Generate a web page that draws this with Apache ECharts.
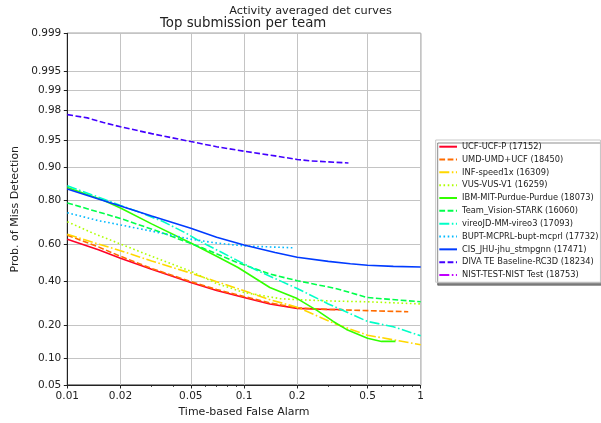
<!DOCTYPE html>
<html><head><meta charset="utf-8">
<script src="https://cdn.jsdelivr.net/npm/echarts@6/dist/echarts.min.js"></script>
<style>html,body{margin:0;padding:0;background:#fff}#c{width:601px;height:423px}</style>
</head><body><div id="c"></div><script>
// ---- tick definitions ----
const FA_TICKS = [0.01, 0.02, 0.05, 0.1, 0.2, 0.5, 1];
const FA_LABELS = ['0.01', '0.02', '0.05', '0.1', '0.2', '0.5', '1'];
const FA_MINOR = [0.03, 0.04, 0.06, 0.07, 0.08, 0.09, 0.3, 0.4, 0.6, 0.7, 0.8, 0.9];
const PM_TICKS = [0.05, 0.1, 0.2, 0.4, 0.6, 0.8, 0.9, 0.95, 0.98, 0.99, 0.995, 0.999];
const PM_LABELS = ['0.05', '0.10', '0.20', '0.40', '0.60', '0.80', '0.90', '0.95', '0.98', '0.99', '0.995', '0.999'];

// ---- series: [false alarm, prob. of miss] ----
const UCF = [[0.01,0.625],[0.015,0.57],[0.02,0.525],[0.03,0.465],[0.05,0.395],[0.07,0.355],[0.095,0.325],[0.14,0.29],[0.2,0.27],[0.3,0.265],[0.36,0.265]];
const UMD = [[0.01,0.645],[0.015,0.585],[0.02,0.535],[0.03,0.47],[0.05,0.40],[0.07,0.36],[0.1,0.325],[0.14,0.295],[0.2,0.272],[0.3,0.265],[0.5,0.26],[0.85,0.255]];
const INF = [[0.01,0.65],[0.015,0.60],[0.02,0.565],[0.03,0.51],[0.05,0.445],[0.07,0.40],[0.095,0.36],[0.14,0.31],[0.2,0.275],[0.33,0.205],[0.5,0.165],[0.7,0.15],[1,0.135]];
const VUS = [[0.01,0.71],[0.014,0.655],[0.02,0.6],[0.03,0.535],[0.05,0.455],[0.07,0.39],[0.1,0.345],[0.16,0.315],[0.2,0.31],[0.33,0.303],[0.5,0.30],[1,0.29]];
const IBM = [[0.01,0.845],[0.016,0.80],[0.02,0.77],[0.03,0.70],[0.05,0.605],[0.07,0.535],[0.0925,0.475],[0.14,0.37],[0.2,0.315],[0.26,0.26],[0.32,0.215],[0.38,0.185],[0.5,0.155],[0.6,0.145],[0.72,0.145]];
const TEAM = [[0.01,0.79],[0.02,0.725],[0.035,0.655],[0.058,0.58],[0.09,0.505],[0.14,0.44],[0.2,0.405],[0.33,0.365],[0.5,0.32],[1,0.30]];
const VIREO = [[0.01,0.85],[0.016,0.805],[0.02,0.78],[0.025,0.755],[0.035,0.71],[0.047,0.655],[0.056,0.615],[0.075,0.555],[0.095,0.505],[0.118,0.46],[0.2,0.365],[0.3,0.29],[0.5,0.215],[0.7,0.195],[1,0.163]];
const BUPT = [[0.01,0.75],[0.015,0.715],[0.02,0.695],[0.03,0.665],[0.05,0.625],[0.07,0.605],[0.1,0.59],[0.19,0.58]];
const CIS = [[0.01,0.84],[0.015,0.805],[0.02,0.778],[0.03,0.736],[0.05,0.679],[0.07,0.635],[0.1,0.595],[0.15,0.555],[0.2,0.53],[0.3,0.508],[0.4,0.495],[0.5,0.487],[0.7,0.481],[1,0.478]];
const DIVA = [[0.01,0.977],[0.013,0.9745],[0.016,0.9705],[0.02,0.9665],[0.03,0.959],[0.05,0.9487],[0.07,0.941],[0.1,0.9335],[0.15,0.925],[0.2,0.918],[0.24,0.915],[0.39,0.9105]];
const NIST = [];

const NAMES = ['UCF-UCF-P (17152)','UMD-UMD+UCF (18450)','INF-speed1x (16309)','VUS-VUS-V1 (16259)','IBM-MIT-Purdue-Purdue (18073)','Team_Vision-STARK (16060)','vireoJD-MM-vireo3 (17093)','BUPT-MCPRL-bupt-mcprl (17732)','CIS_JHU-jhu_stmpgnn (17471)','DIVA TE Baseline-RC3D (18234)','NIST-TEST-NIST Test (18753)'];
const DATA = [UCF, UMD, INF, VUS, IBM, TEAM, VIREO, BUPT, CIS, DIVA, NIST];
const COLORS = ['#ff0029','#ff6c00','#ffd800','#afff00','#32ff00','#00ff4b','#00ffc7','#00b9ff','#003bff','#4300ff','#c100ff'];
const DASHES = {solid: 'solid', dashed: [5.8, 2.5], dashdot: [10, 2.5, 1.6, 2.5], dotted: [1.6, 2.6]};
const STYLE_CYCLE = ['solid', 'dashed', 'dashdot', 'dotted'];

// inverse normal CDF (Acklam)
function probit(p) {
  const a = [-3.969683028665376e+01, 2.209460984245205e+02, -2.759285104469687e+02, 1.383577518672690e+02, -3.066479806614716e+01, 2.506628277459239e+00];
  const b = [-5.447609879822406e+01, 1.615858368580409e+02, -1.556989798598866e+02, 6.680131188771972e+01, -1.328068155288572e+01];
  const c = [-7.784894002430293e-03, -3.223964580411365e-01, -2.400758277161838e+00, -2.549732539343734e+00, 4.374664141464968e+00, 2.938163982698783e+00];
  const d = [7.784695709041462e-03, 3.224671290700398e-01, 2.445134137142996e+00, 3.754408661907416e+00];
  const pl = 0.02425, ph = 1 - pl;
  let q, r;
  if (p < pl) { q = Math.sqrt(-2 * Math.log(p)); return (((((c[0]*q+c[1])*q+c[2])*q+c[3])*q+c[4])*q+c[5]) / ((((d[0]*q+d[1])*q+d[2])*q+d[3])*q+1); }
  if (p <= ph) { q = p - 0.5; r = q*q; return (((((a[0]*r+a[1])*r+a[2])*r+a[3])*r+a[4])*r+a[5])*q / (((((b[0]*r+b[1])*r+b[2])*r+b[3])*r+b[4])*r+1); }
  q = Math.sqrt(-2 * Math.log(1 - p)); return -(((((c[0]*q+c[1])*q+c[2])*q+c[3])*q+c[4])*q+c[5]) / ((((d[0]*q+d[1])*q+d[2])*q+d[3])*q+1);
}
const lg = v => Math.log10(v);
const xMajor = FA_TICKS.map(lg), xMinor = FA_MINOR.map(lg), yMajor = PM_TICKS.map(probit);
function lab(vals, labels) { return v => { for (let i = 0; i < vals.length; i++) if (Math.abs(vals[i] - v) < 1e-6) return labels[i]; return ''; }; }

const FONT = 'DejaVu Sans';
const TXT = '#222';
const series = NAMES.map((n, i) => ({
  name: n, type: 'line', xAxisIndex: 0, yAxisIndex: 0,
  data: DATA[i].map(p => [lg(p[0]), probit(p[1])]),
  showSymbol: false, symbol: 'none', clip: true,
  lineStyle: {color: COLORS[i], width: 1.6, type: DASHES[STYLE_CYCLE[i % 4]], cap: 'butt'},
  itemStyle: {color: COLORS[i]}
}));

const chart = echarts.init(document.getElementById('c'), null, {renderer: 'canvas'});
chart.setOption({
  animation: false,
  backgroundColor: '#fff',
  title: [
    {text: 'Activity averaged det curves', left: 229.3, top: 5.5, padding: 0,
     textStyle: {fontFamily: FONT, fontSize: 11.3, fontWeight: 'normal', color: TXT}},
    {text: 'Top submission per team', left: 160, top: 17, padding: 0,
     textStyle: {fontFamily: FONT, fontSize: 13.3, fontWeight: 'normal', color: TXT}}
  ],
  grid: {left: 67.3, top: 33.3, width: 353.4, height: 355.4, show: true, borderColor: '#222', borderWidth: 1, backgroundColor: 'transparent'},
  legend: {
    orient: 'vertical', left: 435.7, top: 140,
    itemWidth: 17.7, itemHeight: 8, itemGap: 4.83, itemTextGap: 5,
    padding: [2.7, 2, 3.2, 2.6],
    backgroundColor: '#fff', borderColor: '#c8c8c8', borderWidth: 1, borderRadius: 0,
    shadowColor: 'rgba(0,0,0,0.45)', shadowOffsetX: 2, shadowOffsetY: 3, shadowBlur: 0,
    itemStyle: {opacity: 0, borderWidth: 0},
    textStyle: {fontFamily: FONT, fontSize: 8.3, color: TXT, lineHeight: 8},
    data: NAMES
  },
  xAxis: [
    {type: 'value', min: lg(0.01), max: lg(1), position: 'bottom',
     name: 'Time-based False Alarm', nameLocation: 'middle', nameGap: 22,
     nameTextStyle: {fontFamily: FONT, fontSize: 11, color: TXT},
     axisLine: {show: true, onZero: false, lineStyle: {color: '#222', width: 1}},
     axisTick: {show: true, inside: false, length: 3.5, customValues: xMajor, lineStyle: {color: '#222', width: 1}},
     axisLabel: {customValues: xMajor, formatter: lab(xMajor, FA_LABELS), margin: 6, fontFamily: FONT, fontSize: 10.5, color: TXT},
     splitLine: {show: true, lineStyle: {color: '#c4c4c4', width: 1}}},
    {type: 'value', min: lg(0.01), max: lg(1), position: 'bottom', gridIndex: 0,
     axisLine: {show: false, onZero: false},
     axisTick: {show: true, inside: false, length: 2, customValues: xMinor, lineStyle: {color: '#222', width: 0.8}},
     axisLabel: {show: false},
     splitLine: {show: false}}
  ],
  yAxis: {
    type: 'value', min: probit(0.05), max: probit(0.999),
    name: 'Prob. of Miss Detection', nameLocation: 'middle', nameGap: 35,
    nameTextStyle: {fontFamily: FONT, fontSize: 11, color: TXT},
    axisLine: {show: true, onZero: false, lineStyle: {color: '#222', width: 1}},
    axisTick: {show: true, inside: false, length: 3.5, customValues: yMajor, lineStyle: {color: '#222', width: 1}},
    axisLabel: {customValues: yMajor, formatter: lab(yMajor, PM_LABELS), margin: 6, fontFamily: FONT, fontSize: 10.5, color: TXT},
    splitLine: {show: true, lineStyle: {color: '#c4c4c4', width: 1}}
  },
  series: series
});
</script></body></html>
